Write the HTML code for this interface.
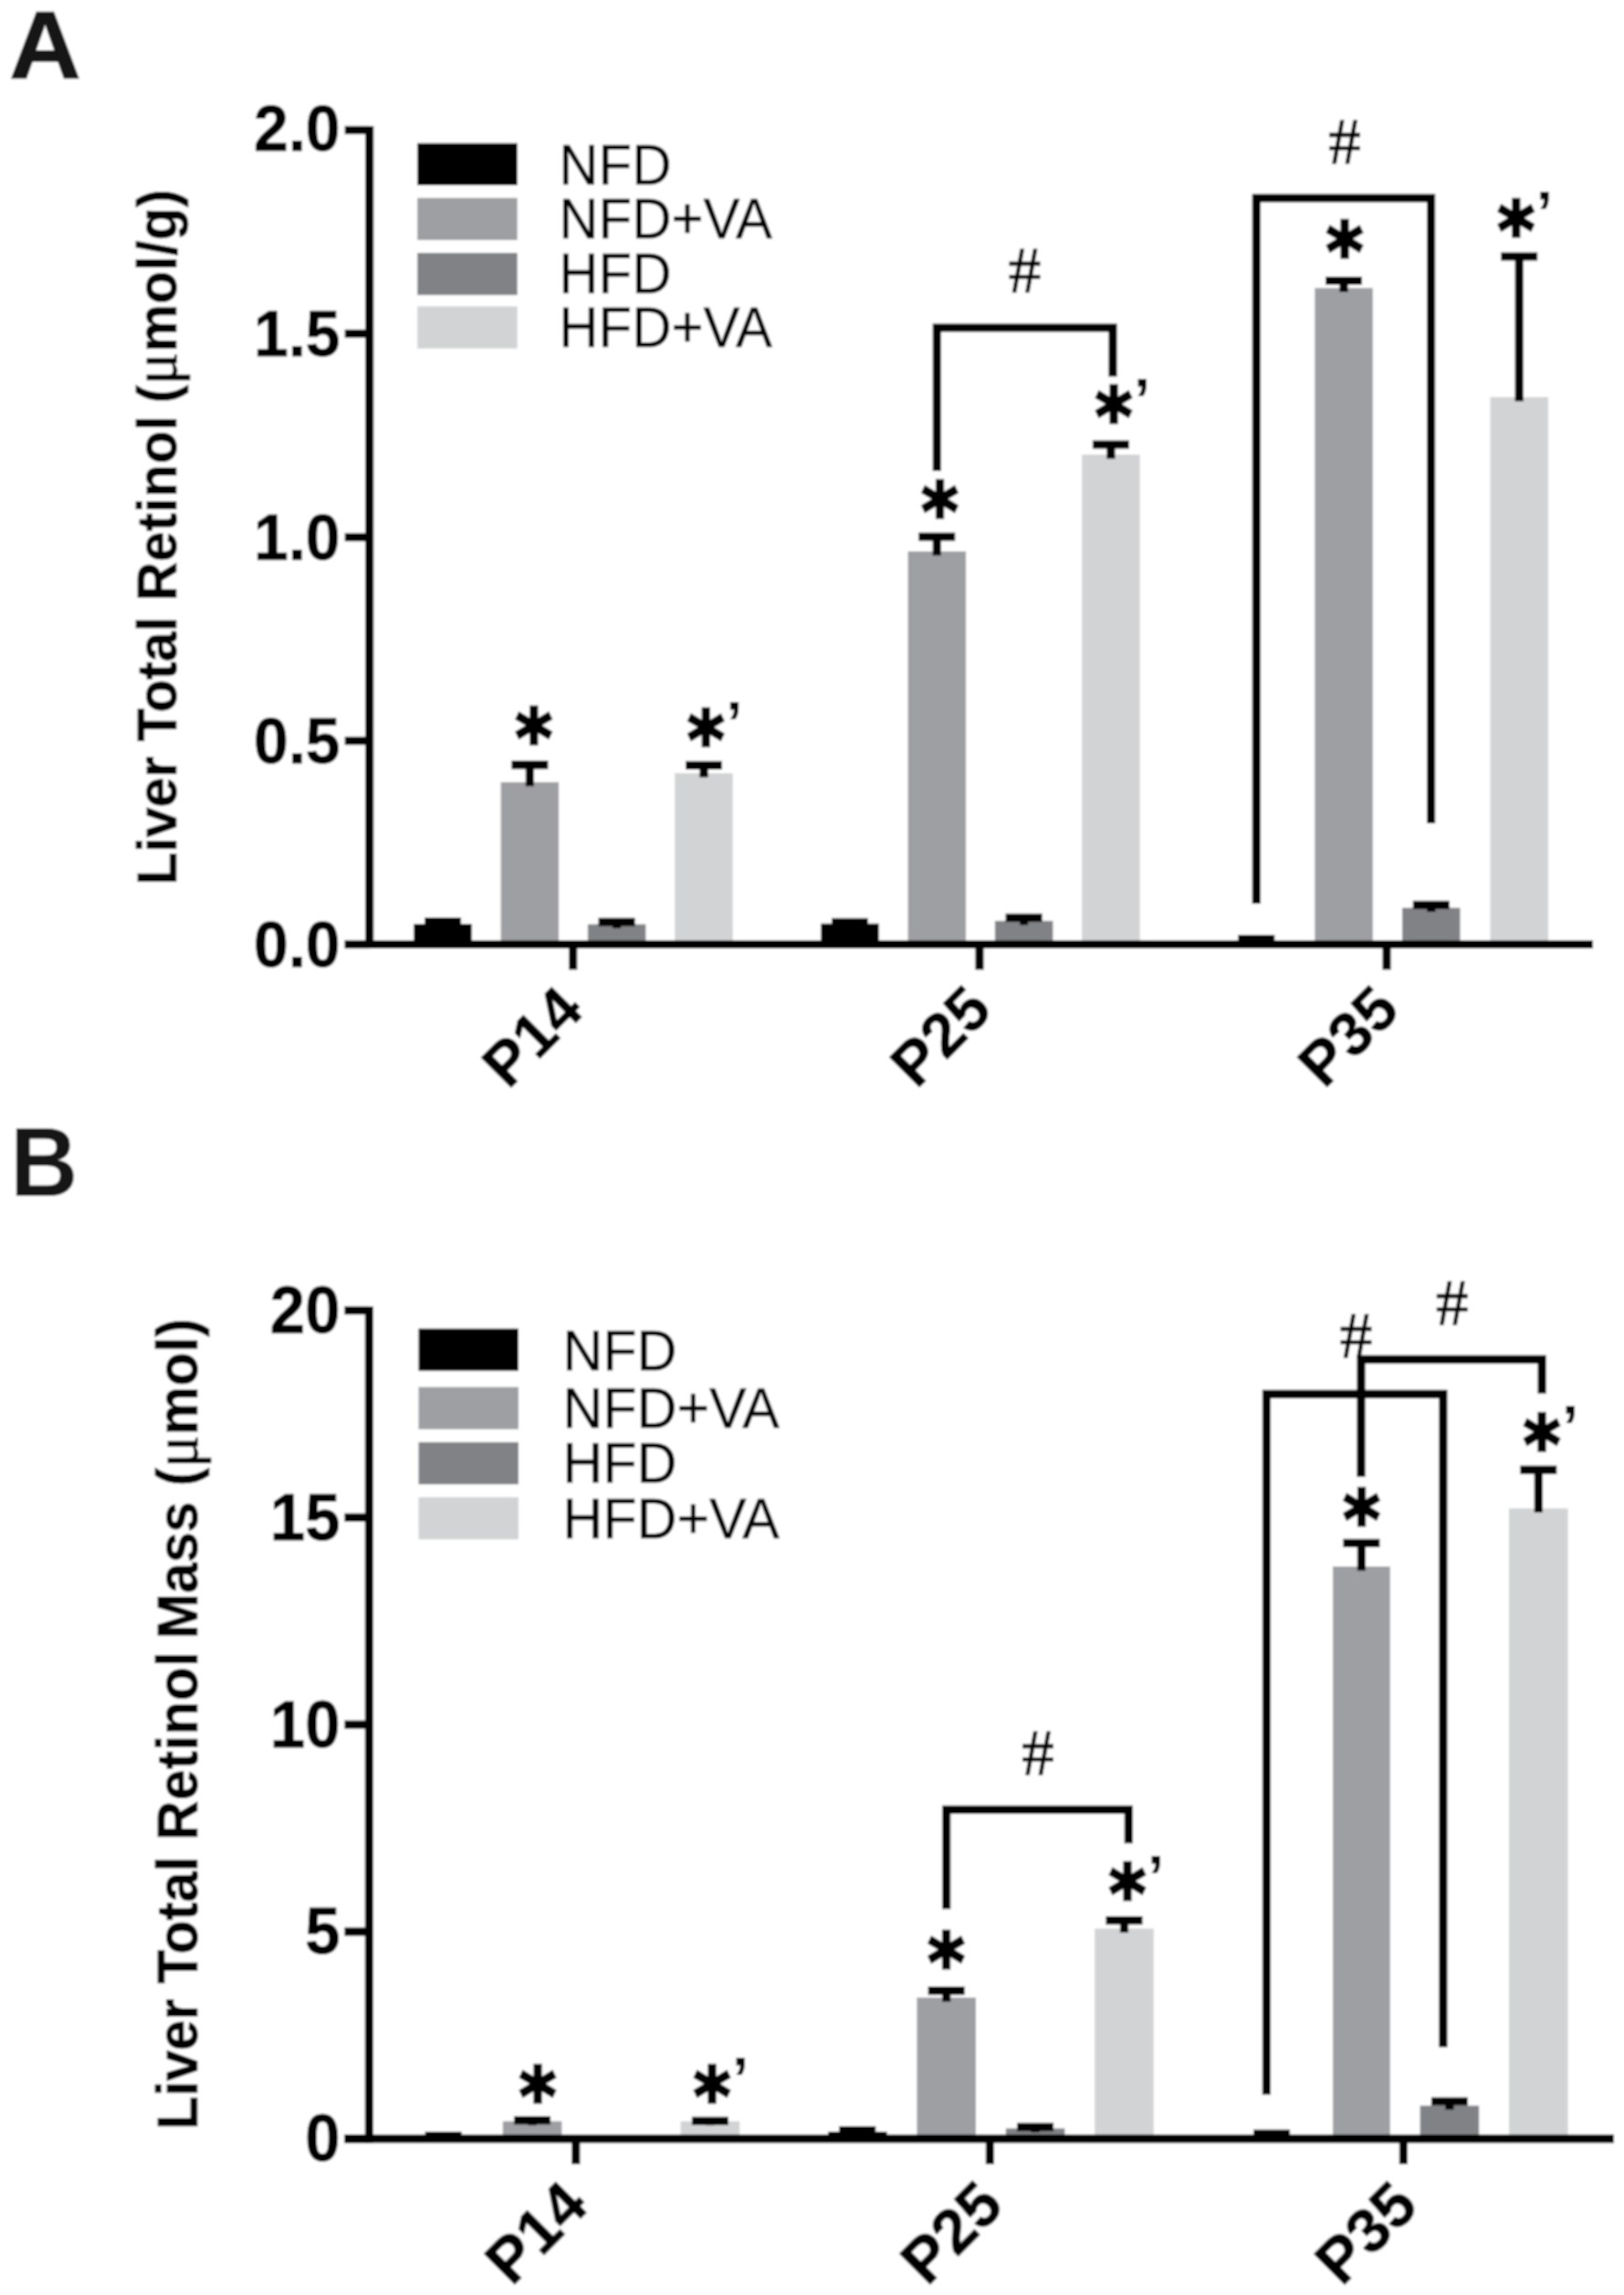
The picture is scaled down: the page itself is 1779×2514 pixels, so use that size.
<!DOCTYPE html>
<html lang="en"><head><meta charset="utf-8"><title>Liver Total Retinol</title>
<style>
html,body{margin:0;padding:0;background:#fff}
svg{display:block}
text{fill:#000;font-family:"Liberation Sans",sans-serif}
.panel{font-size:103px;font-weight:bold;fill:#141414}
.tick{font-size:68px;font-weight:bold;stroke:#000;stroke-width:0.8px}
.xt{font-size:67.5px;font-weight:bold;stroke:#000;stroke-width:0.8px}
.leg{font-size:62.8px;stroke:#000;stroke-width:0.5px}
.yl{font-size:59px;font-weight:bold;stroke:#000;stroke-width:0.7px}
.yl.b{font-size:60.1px}
.tick.b{font-size:69px}
.xt.b{font-size:68.5px}
.leg.b{font-size:63.8px}
.mu{font-family:"Liberation Serif",serif;font-weight:normal;font-size:66px;stroke:#000;stroke-width:0.8px}
.star{font-family:"DejaVu Sans",sans-serif;font-weight:bold;font-size:85.3px;text-anchor:middle;stroke:#000;stroke-width:3.1px;stroke-linejoin:miter}
.prime{font-family:"Liberation Sans",sans-serif;font-weight:bold;font-size:66px}
.hash{font-family:"Liberation Serif",serif;font-size:71px;text-anchor:middle;stroke:#000;stroke-width:1px}
</style></head>
<body>
<svg width="1779" height="2514" viewBox="0 0 1779 2514">
<defs><filter id="soft" x="0" y="0" width="1779" height="2514" filterUnits="userSpaceOnUse"><feGaussianBlur stdDeviation="0.9"/></filter></defs>
<rect x="0" y="0" width="1779" height="2514" fill="#fff"/>
<g filter="url(#soft)">
<rect x="0" y="0" width="1779" height="2514" fill="#fff"/>
<rect x="453.3" y="1012.0" width="63.5" height="22.5" fill="#000000"/>
<line x1="485.1" y1="1009.7" x2="485.1" y2="1016.5" stroke="#000" stroke-width="9.2" stroke-linecap="butt"/>
<line x1="465.1" y1="1009.7" x2="505.1" y2="1009.7" stroke="#000" stroke-width="9.2" stroke-linecap="butt"/>
<rect x="548.6" y="856.8" width="63.5" height="177.7" fill="#9e9fa2"/>
<line x1="580.4" y1="837.8" x2="580.4" y2="861.3" stroke="#000" stroke-width="9.2" stroke-linecap="butt"/>
<line x1="560.4" y1="837.8" x2="600.4" y2="837.8" stroke="#000" stroke-width="9.2" stroke-linecap="butt"/>
<rect x="643.9" y="1012.5" width="63.5" height="22.0" fill="#808285"/>
<line x1="675.6" y1="1010.0" x2="675.6" y2="1017.0" stroke="#000" stroke-width="9.2" stroke-linecap="butt"/>
<line x1="655.6" y1="1010.0" x2="695.6" y2="1010.0" stroke="#000" stroke-width="9.2" stroke-linecap="butt"/>
<rect x="739.2" y="847.0" width="63.5" height="187.5" fill="#d1d3d4"/>
<line x1="771.0" y1="838.4" x2="771.0" y2="851.5" stroke="#000" stroke-width="9.2" stroke-linecap="butt"/>
<line x1="751.0" y1="838.4" x2="791.0" y2="838.4" stroke="#000" stroke-width="9.2" stroke-linecap="butt"/>
<rect x="899.3" y="1011.7" width="63.5" height="22.8" fill="#000000"/>
<line x1="931.0" y1="1010.3" x2="931.0" y2="1016.2" stroke="#000" stroke-width="9.2" stroke-linecap="butt"/>
<line x1="911.0" y1="1010.3" x2="951.0" y2="1010.3" stroke="#000" stroke-width="9.2" stroke-linecap="butt"/>
<rect x="994.6" y="604.0" width="63.5" height="430.5" fill="#9e9fa2"/>
<line x1="1026.3" y1="588.0" x2="1026.3" y2="608.5" stroke="#000" stroke-width="9.2" stroke-linecap="butt"/>
<line x1="1006.3" y1="588.0" x2="1046.3" y2="588.0" stroke="#000" stroke-width="9.2" stroke-linecap="butt"/>
<rect x="1089.9" y="1008.8" width="63.5" height="25.7" fill="#808285"/>
<line x1="1121.6" y1="1005.4" x2="1121.6" y2="1013.3" stroke="#000" stroke-width="9.2" stroke-linecap="butt"/>
<line x1="1101.6" y1="1005.4" x2="1141.6" y2="1005.4" stroke="#000" stroke-width="9.2" stroke-linecap="butt"/>
<rect x="1185.2" y="498.0" width="63.5" height="536.5" fill="#d1d3d4"/>
<line x1="1216.9" y1="487.0" x2="1216.9" y2="502.5" stroke="#000" stroke-width="9.2" stroke-linecap="butt"/>
<line x1="1196.9" y1="487.0" x2="1236.9" y2="487.0" stroke="#000" stroke-width="9.2" stroke-linecap="butt"/>
<line x1="1356.3" y1="1028.6" x2="1396.3" y2="1028.6" stroke="#000" stroke-width="9.2" stroke-linecap="butt"/>
<rect x="1440.3" y="315.5" width="63.5" height="719.0" fill="#9e9fa2"/>
<line x1="1472.0" y1="307.5" x2="1472.0" y2="320.0" stroke="#000" stroke-width="9.2" stroke-linecap="butt"/>
<line x1="1452.0" y1="307.5" x2="1492.0" y2="307.5" stroke="#000" stroke-width="9.2" stroke-linecap="butt"/>
<rect x="1536.0" y="994.5" width="63.5" height="40.0" fill="#808285"/>
<line x1="1567.8" y1="991.3" x2="1567.8" y2="999.0" stroke="#000" stroke-width="9.2" stroke-linecap="butt"/>
<line x1="1547.8" y1="991.3" x2="1587.8" y2="991.3" stroke="#000" stroke-width="9.2" stroke-linecap="butt"/>
<rect x="1632.5" y="435.0" width="63.5" height="599.5" fill="#d1d3d4"/>
<line x1="1664.2" y1="281.0" x2="1664.2" y2="439.5" stroke="#000" stroke-width="9.2" stroke-linecap="butt"/>
<line x1="1644.2" y1="281.0" x2="1684.2" y2="281.0" stroke="#000" stroke-width="9.2" stroke-linecap="butt"/>
<line x1="404.7" y1="137.9" x2="404.7" y2="1039.1" stroke="#000" stroke-width="9.2" stroke-linecap="butt"/>
<line x1="377.7" y1="1034.5" x2="1745.0" y2="1034.5" stroke="#000" stroke-width="9.2" stroke-linecap="butt"/>
<line x1="377.7" y1="142.5" x2="404.7" y2="142.5" stroke="#000" stroke-width="9.2" stroke-linecap="butt"/>
<line x1="377.7" y1="365.5" x2="404.7" y2="365.5" stroke="#000" stroke-width="9.2" stroke-linecap="butt"/>
<line x1="377.7" y1="588.5" x2="404.7" y2="588.5" stroke="#000" stroke-width="9.2" stroke-linecap="butt"/>
<line x1="377.7" y1="811.5" x2="404.7" y2="811.5" stroke="#000" stroke-width="9.2" stroke-linecap="butt"/>
<line x1="377.7" y1="1034.5" x2="404.7" y2="1034.5" stroke="#000" stroke-width="9.2" stroke-linecap="butt"/>
<line x1="627.7" y1="1034.5" x2="627.7" y2="1062.3" stroke="#000" stroke-width="9.2" stroke-linecap="butt"/>
<line x1="1073.0" y1="1034.5" x2="1073.0" y2="1062.3" stroke="#000" stroke-width="9.2" stroke-linecap="butt"/>
<line x1="1519.0" y1="1034.5" x2="1519.0" y2="1062.3" stroke="#000" stroke-width="9.2" stroke-linecap="butt"/>
<text class="tick" text-anchor="end" transform="translate(372.6,165.4) scale(1,1.035)">2.0</text>
<text class="tick" text-anchor="end" transform="translate(372.6,389.9) scale(1,1.035)">1.5</text>
<text class="tick" text-anchor="end" transform="translate(372.6,612.9) scale(1,1.035)">1.0</text>
<text class="tick" text-anchor="end" transform="translate(372.6,835.9) scale(1,1.035)">0.5</text>
<text class="tick" text-anchor="end" transform="translate(372.6,1058.9) scale(1,1.035)">0.0</text>
<text class="xt" text-anchor="end" transform="translate(641.7,1109.5) rotate(-45)">P14</text>
<text class="xt" text-anchor="end" transform="translate(1089.0,1109.0) rotate(-45)">P25</text>
<text class="xt" text-anchor="end" transform="translate(1535.5,1109.0) rotate(-45)">P35</text>
<rect x="457.2" y="156.8" width="109.5" height="46.2" fill="#000000"/>
<text class="leg" transform="translate(612.3,201.8) scale(0.955,1)">NFD</text>
<rect x="457.2" y="216.8" width="109.5" height="46.2" fill="#9e9fa2"/>
<text class="leg" transform="translate(612.3,261.1) scale(0.955,1)">NFD+VA</text>
<rect x="457.2" y="277.0" width="109.5" height="46.2" fill="#808285"/>
<text class="leg" transform="translate(612.3,321.0) scale(0.955,1)">HFD</text>
<rect x="457.2" y="335.6" width="109.5" height="46.2" fill="#d1d3d4"/>
<text class="leg" transform="translate(612.3,380.3) scale(0.955,1)">HFD+VA</text>
<text class="yl" style="letter-spacing:0px" transform="translate(193.2,969.6) rotate(-90) scale(1,1.045)">Liver Total <tspan dx="1" style="letter-spacing:0.55px">Retinol</tspan><tspan dx="-3.5" style="letter-spacing:0.3px"> (<tspan class="mu">μ</tspan>mol/g)</tspan></text>
<text class="star" transform="translate(584.8,838.7) scale(0.91,1.02)">*</text>
<text class="star" transform="translate(773.2,841.1) scale(0.91,1.02)">*</text>
<text class="prime" x="795.2" y="814.6">’</text>
<text class="star" transform="translate(1029.5,591.0) scale(0.91,1.02)">*</text>
<text class="star" transform="translate(1220.0,487.0) scale(0.91,1.02)">*</text>
<text class="prime" x="1242.0" y="460.5">’</text>
<text class="star" transform="translate(1473.0,305.8) scale(0.91,1.02)">*</text>
<text class="star" transform="translate(1660.8,282.5) scale(0.91,1.02)">*</text>
<text class="prime" x="1682.8" y="256.0">’</text>
<polyline points="1026.3,516.0 1026.3,359.0 1219.0,359.0 1219.0,412.5" fill="none" stroke="#000" stroke-width="9.2" stroke-linejoin="miter"/>
<polyline points="1376.3,990.0 1376.3,217.0 1567.6,217.0 1567.6,902.0" fill="none" stroke="#000" stroke-width="9.2" stroke-linejoin="miter"/>
<text class="hash" x="1122.5" y="319.5">#</text>
<text class="hash" x="1473.0" y="178.5">#</text>
<line x1="465.7" y1="2339.5" x2="505.7" y2="2339.5" stroke="#000" stroke-width="9.2" stroke-linecap="butt"/>
<rect x="550.8" y="2323.7" width="64.6" height="19.1" fill="#9e9fa2"/>
<line x1="583.1" y1="2322.7" x2="583.1" y2="2328.2" stroke="#000" stroke-width="9.2" stroke-linecap="butt"/>
<line x1="563.1" y1="2322.7" x2="603.1" y2="2322.7" stroke="#000" stroke-width="9.2" stroke-linecap="butt"/>
<rect x="745.6" y="2323.7" width="64.6" height="19.1" fill="#d1d3d4"/>
<line x1="777.9" y1="2323.4" x2="777.9" y2="2328.2" stroke="#000" stroke-width="9.2" stroke-linecap="butt"/>
<line x1="757.9" y1="2323.4" x2="797.9" y2="2323.4" stroke="#000" stroke-width="9.2" stroke-linecap="butt"/>
<rect x="907.0" y="2335.0" width="64.6" height="7.8" fill="#000000"/>
<line x1="939.3" y1="2333.5" x2="939.3" y2="2339.5" stroke="#000" stroke-width="9.2" stroke-linecap="butt"/>
<line x1="919.3" y1="2333.5" x2="959.3" y2="2333.5" stroke="#000" stroke-width="9.2" stroke-linecap="butt"/>
<rect x="1004.4" y="2188.2" width="64.6" height="154.6" fill="#9e9fa2"/>
<line x1="1036.7" y1="2180.6" x2="1036.7" y2="2192.7" stroke="#000" stroke-width="9.2" stroke-linecap="butt"/>
<line x1="1016.7" y1="2180.6" x2="1056.7" y2="2180.6" stroke="#000" stroke-width="9.2" stroke-linecap="butt"/>
<rect x="1101.8" y="2331.5" width="64.6" height="11.3" fill="#808285"/>
<line x1="1134.1" y1="2330.0" x2="1134.1" y2="2336.0" stroke="#000" stroke-width="9.2" stroke-linecap="butt"/>
<line x1="1114.1" y1="2330.0" x2="1154.1" y2="2330.0" stroke="#000" stroke-width="9.2" stroke-linecap="butt"/>
<rect x="1199.2" y="2112.6" width="64.6" height="230.2" fill="#d1d3d4"/>
<line x1="1231.5" y1="2103.7" x2="1231.5" y2="2117.1" stroke="#000" stroke-width="9.2" stroke-linecap="butt"/>
<line x1="1211.5" y1="2103.7" x2="1251.5" y2="2103.7" stroke="#000" stroke-width="9.2" stroke-linecap="butt"/>
<line x1="1373.1" y1="2337.3" x2="1413.1" y2="2337.3" stroke="#000" stroke-width="9.2" stroke-linecap="butt"/>
<rect x="1460.0" y="1716.0" width="62.8" height="626.8" fill="#9e9fa2"/>
<line x1="1491.4" y1="1690.3" x2="1491.4" y2="1720.5" stroke="#000" stroke-width="9.2" stroke-linecap="butt"/>
<line x1="1471.4" y1="1690.3" x2="1511.4" y2="1690.3" stroke="#000" stroke-width="9.2" stroke-linecap="butt"/>
<rect x="1555.6" y="2306.6" width="64.6" height="36.2" fill="#808285"/>
<line x1="1587.9" y1="2302.0" x2="1587.9" y2="2311.1" stroke="#000" stroke-width="9.2" stroke-linecap="butt"/>
<line x1="1567.9" y1="2302.0" x2="1607.9" y2="2302.0" stroke="#000" stroke-width="9.2" stroke-linecap="butt"/>
<rect x="1653.0" y="1652.3" width="64.6" height="690.5" fill="#d1d3d4"/>
<line x1="1685.3" y1="1610.2" x2="1685.3" y2="1656.8" stroke="#000" stroke-width="9.2" stroke-linecap="butt"/>
<line x1="1665.3" y1="1610.2" x2="1705.3" y2="1610.2" stroke="#000" stroke-width="9.2" stroke-linecap="butt"/>
<line x1="404.4" y1="1430.9" x2="404.4" y2="2347.4" stroke="#000" stroke-width="9.2" stroke-linecap="butt"/>
<line x1="377.4" y1="2342.8" x2="1768.0" y2="2342.8" stroke="#000" stroke-width="9.2" stroke-linecap="butt"/>
<line x1="377.4" y1="1435.5" x2="404.4" y2="1435.5" stroke="#000" stroke-width="9.2" stroke-linecap="butt"/>
<line x1="377.4" y1="1662.3" x2="404.4" y2="1662.3" stroke="#000" stroke-width="9.2" stroke-linecap="butt"/>
<line x1="377.4" y1="1889.2" x2="404.4" y2="1889.2" stroke="#000" stroke-width="9.2" stroke-linecap="butt"/>
<line x1="377.4" y1="2116.0" x2="404.4" y2="2116.0" stroke="#000" stroke-width="9.2" stroke-linecap="butt"/>
<line x1="377.4" y1="2342.8" x2="404.4" y2="2342.8" stroke="#000" stroke-width="9.2" stroke-linecap="butt"/>
<line x1="630.8" y1="2342.8" x2="630.8" y2="2370.6" stroke="#000" stroke-width="9.2" stroke-linecap="butt"/>
<line x1="1084.4" y1="2342.8" x2="1084.4" y2="2370.6" stroke="#000" stroke-width="9.2" stroke-linecap="butt"/>
<line x1="1537.4" y1="2342.8" x2="1537.4" y2="2370.6" stroke="#000" stroke-width="9.2" stroke-linecap="butt"/>
<text class="tick b" text-anchor="end" transform="translate(372.6,1459.9) scale(1,1.035)">20</text>
<text class="tick b" text-anchor="end" transform="translate(372.6,1686.7) scale(1,1.035)">15</text>
<text class="tick b" text-anchor="end" transform="translate(372.6,1913.6) scale(1,1.035)">10</text>
<text class="tick b" text-anchor="end" transform="translate(372.6,2140.4) scale(1,1.035)">5</text>
<text class="tick b" text-anchor="end" transform="translate(372.6,2367.2) scale(1,1.035)">0</text>
<text class="xt b" text-anchor="end" transform="translate(646.8,2419.0) rotate(-45)">P14</text>
<text class="xt b" text-anchor="end" transform="translate(1101.9,2419.0) rotate(-45)">P25</text>
<text class="xt b" text-anchor="end" transform="translate(1555.9,2419.3) rotate(-45)">P35</text>
<rect x="458.5" y="1455.4" width="109.5" height="46.2" fill="#000000"/>
<text class="leg b" transform="translate(616.3,1500.7) scale(0.955,1)">NFD</text>
<rect x="458.5" y="1519.4" width="109.5" height="46.2" fill="#9e9fa2"/>
<text class="leg b" transform="translate(616.3,1564.4) scale(0.955,1)">NFD+VA</text>
<rect x="458.5" y="1579.8" width="109.5" height="46.2" fill="#808285"/>
<text class="leg b" transform="translate(616.3,1624.1) scale(0.955,1)">HFD</text>
<rect x="458.5" y="1640.1" width="109.5" height="46.2" fill="#d1d3d4"/>
<text class="leg b" transform="translate(616.3,1685.1) scale(0.955,1)">HFD+VA</text>
<text class="yl b" style="letter-spacing:0px" transform="translate(215.8,2333) rotate(-90) scale(1,1.045)">Liver Total <tspan dx="1" style="letter-spacing:0.55px">Retinol</tspan><tspan dx="-3.5"> Mass</tspan><tspan style="letter-spacing:0.3px"> (<tspan class="mu">μ</tspan>mol)</tspan></text>
<text class="star" transform="translate(589.0,2326.5) scale(0.91,1.02)">*</text>
<text class="star" transform="translate(780.0,2326.7) scale(0.91,1.02)">*</text>
<text class="prime" x="802.0" y="2300.2">’</text>
<text class="star" transform="translate(1036.5,2180.1) scale(0.91,1.02)">*</text>
<text class="star" transform="translate(1235.0,2105.2) scale(0.91,1.02)">*</text>
<text class="prime" x="1257.0" y="2078.7">’</text>
<text class="star" transform="translate(1491.5,1695.2) scale(0.91,1.02)">*</text>
<text class="star" transform="translate(1689.0,1612.5) scale(0.91,1.02)">*</text>
<text class="prime" x="1711.0" y="1586.0">’</text>
<polyline points="1036.7,2091.3 1036.7,1982.3 1236.3,1982.3 1236.3,2019.2" fill="none" stroke="#000" stroke-width="9.2" stroke-linejoin="miter"/>
<polyline points="1387.4,2294.6 1387.4,1527.2 1580.9,1527.2 1580.9,2242.6" fill="none" stroke="#000" stroke-width="9.2" stroke-linejoin="miter"/>
<polyline points="1491.0,1617.8 1491.0,1489.2 1689.1,1489.2 1689.1,1526.5" fill="none" stroke="#000" stroke-width="9.2" stroke-linejoin="miter"/>
<text class="hash" x="1137.0" y="1943.8">#</text>
<text class="hash" x="1485.5" y="1487.3">#</text>
<text class="hash" x="1590.7" y="1450.6">#</text>
<text class="panel" style="stroke:#141414;stroke-width:1.3px" transform="translate(10.2,85.2) scale(1.055,1.015)">A</text>
<text class="panel" transform="translate(10.9,1310) scale(1,1.05)">B</text>
</g>
</svg>
</body></html>
